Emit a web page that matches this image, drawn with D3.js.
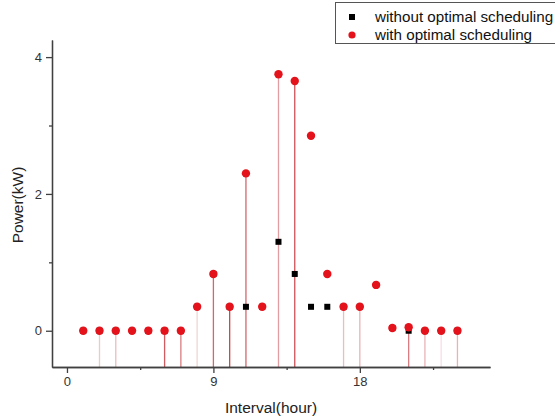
<!DOCTYPE html>
<html>
<head>
<meta charset="utf-8">
<script src="https://cdn.jsdelivr.net/npm/d3@7"></script>
<style>
  body { margin: 0; background: #fff; }
  svg { font-family: "Liberation Sans", Arial, sans-serif; }
  .axis path, .axis line { stroke: #404040; stroke-width: 1.3; }
  .axis text { fill: #333; font-size: 13px; }
</style>
</head>
<body>
<svg id="chart" width="555" height="419"></svg>
<script>
// hours 1..24
var hours = d3.range(1, 25);
var withoutOpt = [0, 0, 0, 0, 0, 0, 0, 0.35, 0.83, 0.35, 0.35, 0.35,
                  1.3, 0.83, 0.35, 0.35, 0.35, 0.35, 0.67, 0.04, 0, 0, 0, 0];
var withOpt    = [0, 0, 0, 0, 0, 0, 0, 0.35, 0.83, 0.35, 2.3, 0.35,
                  3.75, 3.65, 2.85, 0.83, 0.35, 0.35, 0.67, 0.04, 0.05, 0, 0, 0];
// hours that have a drop line down to the axis
var stemHours = [2, 3, 6, 7, 8, 9, 10, 11, 13, 14, 17, 18, 21, 22, 23, 24];
var xMajor = [0, 9, 18], xMinor = [4.5, 13.5, 22.5];
var yMajor = [0, 2, 4], yMinor = [1, 3];
var seriesNames = ["without optimal scheduling", "with optimal scheduling"];

// stem shading (style only)
var stemAlpha = {2: 0.25, 3: 0.3, 6: 0.75, 7: 0.6, 8: 0.2, 9: 0.7, 10: 0.85, 11: 0.7,
                 13: 0.45, 14: 0.8, 17: 0.3, 18: 0.35, 21: 0.6, 22: 0.35, 23: 0.15, 24: 0.35};

var svg = d3.select("#chart");
var red = "#e3121b";

var x = d3.scaleLinear().domain([-0.92, 26]).range([52, 490]);
var y = d3.scaleLinear().domain([-0.53, 4.25]).range([367, 40]);

// stems
svg.append("g").selectAll("line")
  .data(stemHours)
  .enter().append("line")
  .attr("x1", function(d) { return x(d); })
  .attr("x2", function(d) { return x(d); })
  .attr("y1", function(d) { return y(Math.max(withOpt[d - 1], withoutOpt[d - 1])); })
  .attr("y2", y.range()[0])
  .attr("stroke", "#c0262c")
  .attr("stroke-opacity", function(d) { return stemAlpha[d]; })
  .attr("stroke-width", 1.3);

// axes
svg.append("g").attr("class", "axis")
  .attr("transform", "translate(0," + y.range()[0] + ")")
  .call(d3.axisBottom(x).tickValues(xMajor).tickSize(6).tickSizeOuter(0).tickPadding(4));
svg.append("g").attr("class", "axis")
  .attr("transform", "translate(0," + y.range()[0] + ")")
  .call(d3.axisBottom(x).tickValues(xMinor).tickSize(3).tickSizeOuter(0).tickFormat(""));
svg.append("g").attr("class", "axis")
  .attr("transform", "translate(" + x.range()[0] + ",0)")
  .call(d3.axisLeft(y).tickValues(yMajor).tickFormat(d3.format("d")).tickSize(6).tickSizeOuter(0).tickPadding(4));
svg.append("g").attr("class", "axis")
  .attr("transform", "translate(" + x.range()[0] + ",0)")
  .call(d3.axisLeft(y).tickValues(yMinor).tickSize(3).tickSizeOuter(0).tickFormat(""));

// points: black squares below, red circles on top
var s = 6;
svg.append("g").selectAll("rect")
  .data(hours)
  .enter().append("rect")
  .attr("x", function(d) { return x(d) - s / 2; })
  .attr("y", function(d, i) { return y(withoutOpt[i]) - s / 2; })
  .attr("width", s).attr("height", s)
  .attr("fill", "#000");

svg.append("g").selectAll("circle")
  .data(hours)
  .enter().append("circle")
  .attr("cx", function(d) { return x(d); })
  .attr("cy", function(d, i) { return y(withOpt[i]); })
  .attr("r", 4.2)
  .attr("fill", red);

// axis titles
svg.append("text")
  .attr("x", 271).attr("y", 413)
  .attr("text-anchor", "middle")
  .attr("font-size", 15.5).attr("fill", "#222")
  .text("Interval(hour)");
svg.append("text")
  .attr("transform", "translate(23,205) rotate(-90)")
  .attr("text-anchor", "middle")
  .attr("font-size", 15.5).attr("fill", "#222")
  .text("Power(kW)");

// legend
var lg = svg.append("g");
lg.append("rect")
  .attr("x", 335.5).attr("y", 2.5).attr("width", 240).attr("height", 41)
  .attr("fill", "#fff").attr("stroke", "#555").attr("stroke-width", 1);
lg.append("rect").attr("x", 349).attr("y", 14).attr("width", s).attr("height", s).attr("fill", "#000");
lg.append("circle").attr("cx", 352).attr("cy", 35).attr("r", 3.6).attr("fill", red);
lg.selectAll("text.lbl")
  .data(seriesNames)
  .enter().append("text")
  .attr("class", "lbl")
  .attr("x", 375)
  .attr("y", function(d, i) { return 22 + i * 18; })
  .attr("font-size", 15.2).attr("fill", "#111")
  .text(function(d) { return d; });
</script>
</body>
</html>
